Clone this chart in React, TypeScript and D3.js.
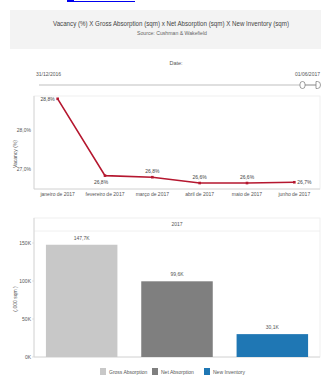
import React from "react";
import * as d3 from "d3";

const months = ["janeiro de 2017", "fevereiro de 2017", "março de 2017", "abril de 2017", "maio de 2017", "junho de 2017"];
const vacancy = [28.8, 26.83, 26.79, 26.64, 26.64, 26.66];
const vacancyTicks = [27, 28];

const barCategories = ["Gross Absorption", "Net Absorption", "New Inventory"];
const barValues = [147.7, 99.6, 30.1];
const barColors = ["#c8c8c8", "#7f7f7f", "#1f77b4"];
const barTicks = [0, 50, 100, 150];

const FONT = "'Liberation Sans Narrow', 'Arial Narrow', 'Liberation Sans', sans-serif";
const pct = (v: number) => v.toFixed(1).replace(".", ",") + "%";
const kfmt = (v: number) => v.toFixed(1).replace(".", ",") + "K";

export default function App() {
  // line chart
  const x = d3.scalePoint<string>().domain(months).range([34, 318]).padding(0.5);
  const y = d3.scaleLinear().domain([27, 28]).range([169, 130]);
  const line = d3.line<number>().x((_, i) => x(months[i])!).y(d => y(d));

  // bar chart
  const xb = d3.scaleBand<string>().domain(barCategories).range([34, 320]).paddingInner(0.25).paddingOuter(0.125);
  const yb = d3.scaleLinear().domain([0, 150]).range([357, 243]);

  const labelPos = (i: number) => {
    const px = x(months[i])!;
    const py = y(vacancy[i]);
    if (i === 0) return { x: px - 3, y: py + 2, anchor: "end" };
    if (i === 1) return { x: px - 4, y: py + 8, anchor: "middle" };
    if (i === months.length - 1) return { x: px + 3, y: py + 2, anchor: "start" };
    return { x: px, y: py - 4, anchor: "middle" };
  };

  return (
    <svg width={321} height={377} style={{ position: "absolute", left: 0, top: 0, background: "#fff" }} fontFamily={FONT}>
      {/* cut-off link at the top */}
      <line x1={67} x2={135} y1={1.5} y2={1.5} stroke="#0000ee" strokeWidth={1.2} />
      <rect x={67} y={0} width={7} height={1.5} fill="#0000ee" />

      {/* title box */}
      <rect x={10} y={10} width={311} height={39} fill="#f3f3f3" />
      <text x={171} y={26} textAnchor="middle" fontSize={7} fill="#444" textLength={236} lengthAdjust="spacingAndGlyphs">
        Vacancy (%) X Gross Absorption (sqm) x Net Absorption (sqm) X New Inventory (sqm)
      </text>
      <text x={172} y={35} textAnchor="middle" fontSize={5.5} fill="#666" textLength={70} lengthAdjust="spacingAndGlyphs">
        Source: Cushman &amp; Wakefield
      </text>

      {/* date slider */}
      <text x={176} y={65} textAnchor="middle" fontSize={5.5} fill="#555">Date:</text>
      <text x={36} y={76} fontSize={5} fill="#555">31/12/2016</text>
      <text x={320} y={76} textAnchor="end" fontSize={5} fill="#555">01/06/2017</text>
      <line x1={39} x2={302} y1={85} y2={85} stroke="#d5d5d5" strokeWidth={1.5} />
      <line x1={304} x2={317} y1={85} y2={85} stroke="#888" strokeWidth={1} />
      <rect x={300} y={81.5} width={5} height={7} rx={2.5} fill="#fff" stroke="#777" strokeWidth={0.7} />
      <path d="M316,81.5 h1.5 a3,3.5 0 0 1 0,7 h-1.5 z" fill="#fff" stroke="#777" strokeWidth={0.7} />

      {/* line chart frame */}
      <rect x={34} y={96} width={286} height={93} fill="none" stroke="#ececec" strokeWidth={0.8} />
      <line x1={34} x2={320} y1={189} y2={189} stroke="#d0d0d0" strokeWidth={0.8} />
      <line x1={34} x2={34} y1={96} y2={189} stroke="#d0d0d0" strokeWidth={0.8} />
      {vacancyTicks.map(t => (
        <text key={t} x={31} y={y(t) + 2} textAnchor="end" fontSize={5} fill="#555">{pct(t)}</text>
      ))}
      <text transform="translate(17,154) rotate(-90)" textAnchor="middle" fontSize={5} fill="#555">Vacancy (%)</text>
      {months.map(m => (
        <text key={m} x={x(m)} y={196} textAnchor="middle" fontSize={5} fill="#555">{m}</text>
      ))}
      <path d={line(vacancy)!} fill="none" stroke="#b5172f" strokeWidth={1.6} />
      {vacancy.map((v, i) => (
        <rect key={i} x={x(months[i])! - 1.3} y={y(v) - 1.3} width={2.6} height={2.6} fill="#b5172f" />
      ))}
      {vacancy.map((v, i) => {
        const p = labelPos(i);
        return (
          <text key={i} x={p.x} y={p.y} textAnchor={p.anchor as any} fontSize={5} fill="#444">{pct(v)}</text>
        );
      })}

      {/* bar chart frame */}
      <rect x={34} y={218} width={286} height={139} fill="none" stroke="#ececec" strokeWidth={0.8} />
      <line x1={34} x2={320} y1={231} y2={231} stroke="#ececec" strokeWidth={0.8} />
      <text x={177} y={226} textAnchor="middle" fontSize={5} fill="#555">2017</text>
      <line x1={34} x2={34} y1={218} y2={357} stroke="#d0d0d0" strokeWidth={0.8} />
      <line x1={34} x2={320} y1={357} y2={357} stroke="#d0d0d0" strokeWidth={0.8} />
      {barTicks.map(t => (
        <g key={t}>
          <line x1={32} x2={34} y1={yb(t)} y2={yb(t)} stroke="#d0d0d0" strokeWidth={0.6} />
          <text x={31} y={yb(t) + 2} textAnchor="end" fontSize={5} fill="#555">{t}K</text>
        </g>
      ))}
      <text transform="translate(17,299) rotate(-90)" textAnchor="middle" fontSize={5} fill="#555">(.000 sqm )</text>
      {barCategories.map((c, i) => (
        <g key={c}>
          <rect x={xb(c)} y={yb(barValues[i])} width={xb.bandwidth()} height={yb(0) - yb(barValues[i])} fill={barColors[i]} />
          <text x={xb(c)! + xb.bandwidth() / 2} y={yb(barValues[i]) - 5} textAnchor="middle" fontSize={5} fill="#555">{kfmt(barValues[i])}</text>
        </g>
      ))}

      {/* legend */}
      {barCategories.map((c, i) => {
        const lx = [100, 152, 204][i];
        return (
          <g key={c}>
            <rect x={lx} y={368} width={6} height={7} fill={barColors[i]} />
            <text x={lx + 9} y={373.5} fontSize={5} fill="#555">{c}</text>
          </g>
        );
      })}
    </svg>
  );
}
